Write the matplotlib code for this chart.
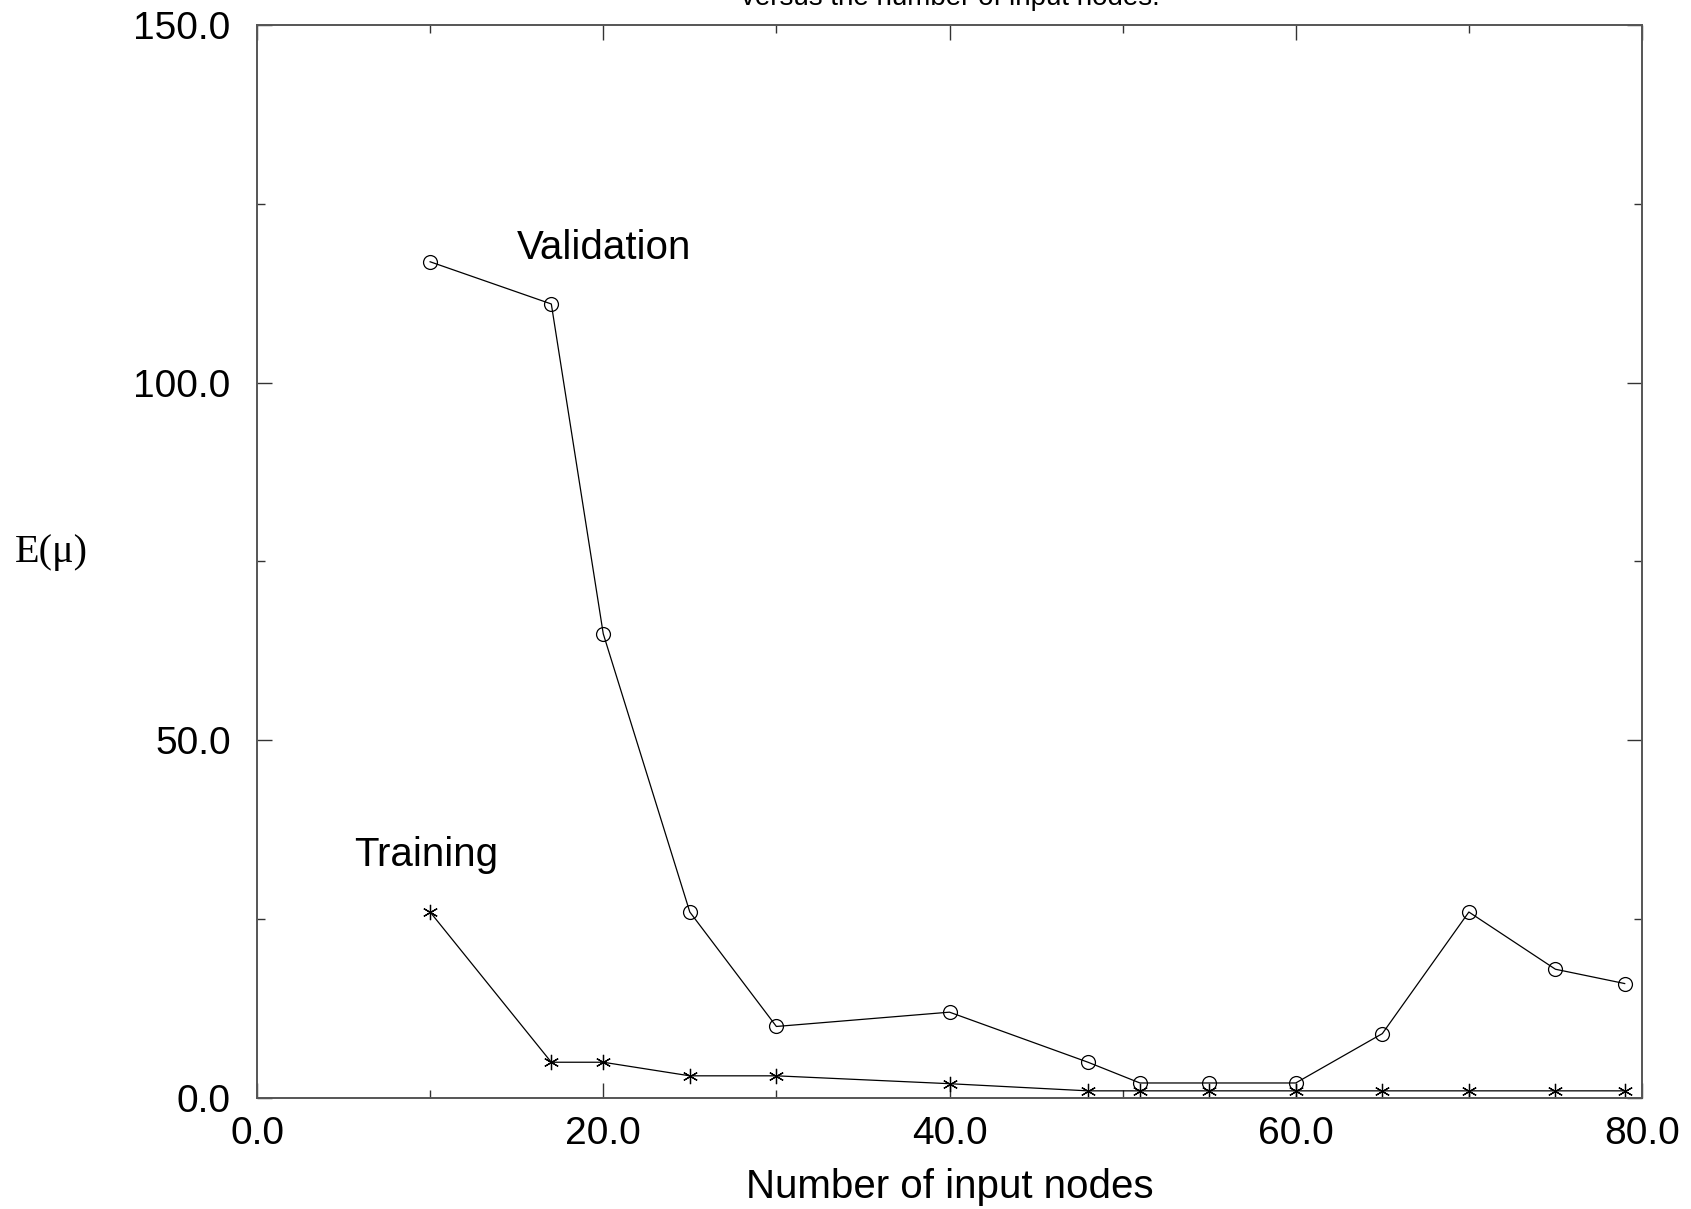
import matplotlib
matplotlib.use('Agg')
import matplotlib.pyplot as plt
from matplotlib.ticker import MultipleLocator, FormatStrFormatter

# Data
input_nodes = [10, 17, 20, 25, 30, 40, 48, 51, 55, 60, 65, 70, 75, 79]
validation = [116.9, 111.0, 64.9, 26.0, 10.0, 12.0, 5.0, 2.1, 2.1, 2.1, 9.0, 26.0, 18.0, 16.0]
training = [26.0, 5.0, 5.0, 3.1, 3.1, 2.0, 1.0, 1.0, 1.0, 1.0, 1.0, 1.0, 1.0, 1.0]

plt.rcParams['font.family'] = ['Liberation Sans', 'DejaVu Sans']

fig = plt.figure(figsize=(16.91, 12.09), dpi=100)
ax = fig.add_axes([257 / 1691, 1 - 1098 / 1209, (1642 - 257) / 1691, (1098 - 25) / 1209])

ax.plot(input_nodes, validation, color='black', linewidth=0.9,
        marker='o', markersize=10, markerfacecolor='none', markeredgewidth=0.9)
ax.plot(input_nodes, training, color='black', linewidth=0.9,
        marker=(6, 2, 0), markersize=11, markeredgewidth=0.9)

ax.set_xlim(0, 80)
ax.set_ylim(0, 150)
ax.xaxis.set_major_locator(MultipleLocator(20))
ax.xaxis.set_minor_locator(MultipleLocator(10))
ax.yaxis.set_major_locator(MultipleLocator(50))
ax.yaxis.set_minor_locator(MultipleLocator(25))
ax.xaxis.set_major_formatter(FormatStrFormatter('%.1f'))
ax.yaxis.set_major_formatter(FormatStrFormatter('%.1f'))

ax.tick_params(which='both', direction='in', top=True, right=True, width=1, color='#333333')
ax.tick_params(which='major', length=11, labelsize=28)
ax.tick_params(axis='x', which='major', pad=13)
ax.tick_params(axis='y', which='major', pad=19)
ax.tick_params(which='minor', length=6)
for s in ax.spines.values():
    s.set_color('#555555')
    s.set_linewidth(1.4)

# x label baseline sits close to the bottom edge
ax.set_xlabel('Number of input nodes', fontsize=29, va='baseline')
ax.xaxis.set_label_coords(0.5, (1098 - 1198) / 1073)

ax.text(15.0, 117.3, 'Validation', fontsize=29, ha='left', va='baseline')
ax.text(5.6, 32.5, 'Training', fontsize=29, ha='left', va='baseline')

fig.text(15 / 1691, 1 - 562 / 1209, 'E(\u03bc)', fontsize=29,
         family=['Liberation Serif', 'DejaVu Serif'], ha='left', va='baseline')

# title sits mostly above the page edge in the reference
fig.text(950 / 1691, 1 - 5 / 1209, 'versus the number of input nodes.', fontsize=20,
         ha='center', va='baseline')

fig.savefig('out.png', dpi=100)
